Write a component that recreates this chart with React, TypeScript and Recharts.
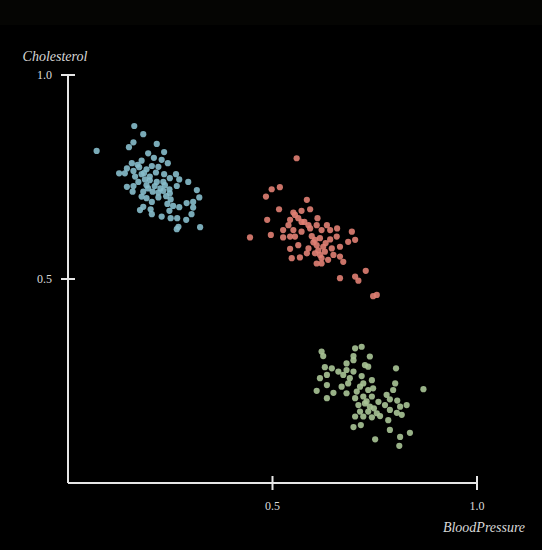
import React from "react";
import { ScatterChart, Scatter, XAxis, YAxis } from "recharts";

// Blood pressure (x) / cholesterol (y) clusters
const blueX = [0.162,0.184,0.160,0.149,0.217,0.070,0.196,0.235,0.210,0.229,0.244,0.180,0.156,0.144,0.125,0.139,0.160,0.174,0.192,0.205,0.221,0.215,0.200,0.188,0.180,0.164,0.235,0.249,0.264,0.272,0.294,0.266,0.248,0.233,0.221,0.207,0.196,0.184,0.144,0.158,0.160,0.192,0.180,0.205,0.221,0.240,0.251,0.243,0.257,0.272,0.290,0.306,0.315,0.321,0.306,0.184,0.202,0.205,0.229,0.248,0.251,0.267,0.289,0.302,0.270,0.266,0.323,0.176,0.233,0.217,0.172,0.192,0.249,0.237,0.200,0.212,0.226,0.170,0.186];
const blueY = [0.875,0.855,0.835,0.823,0.831,0.814,0.808,0.811,0.797,0.792,0.784,0.790,0.784,0.771,0.759,0.759,0.765,0.774,0.769,0.777,0.775,0.761,0.751,0.744,0.757,0.751,0.757,0.747,0.757,0.744,0.738,0.728,0.720,0.716,0.712,0.714,0.722,0.714,0.726,0.714,0.728,0.698,0.702,0.689,0.700,0.703,0.695,0.684,0.679,0.676,0.686,0.675,0.718,0.700,0.689,0.677,0.671,0.659,0.653,0.667,0.649,0.649,0.645,0.659,0.628,0.622,0.627,0.669,0.738,0.738,0.738,0.730,0.710,0.730,0.742,0.728,0.722,0.780,0.760];

const redX = [0.559,0.498,0.518,0.484,0.584,0.516,0.592,0.571,0.551,0.487,0.543,0.563,0.539,0.571,0.588,0.610,0.608,0.633,0.620,0.641,0.658,0.551,0.571,0.592,0.555,0.526,0.543,0.496,0.445,0.596,0.616,0.641,0.694,0.685,0.702,0.563,0.543,0.588,0.608,0.624,0.645,0.665,0.616,0.628,0.604,0.547,0.567,0.620,0.636,0.608,0.665,0.673,0.665,0.702,0.710,0.728,0.746,0.755,0.584,0.649,0.526,0.555,0.620,0.604,0.657,0.612,0.600,0.630,0.578];
const redY = [0.796,0.720,0.725,0.702,0.694,0.671,0.671,0.667,0.663,0.645,0.645,0.649,0.632,0.640,0.632,0.649,0.632,0.632,0.620,0.620,0.624,0.620,0.616,0.624,0.604,0.602,0.604,0.608,0.602,0.605,0.600,0.597,0.616,0.591,0.596,0.583,0.574,0.575,0.583,0.579,0.575,0.579,0.559,0.567,0.563,0.551,0.553,0.551,0.547,0.538,0.555,0.542,0.502,0.506,0.496,0.520,0.458,0.461,0.563,0.559,0.620,0.657,0.538,0.596,0.604,0.570,0.590,0.588,0.640];

const greenX = [0.620,0.624,0.702,0.718,0.698,0.698,0.738,0.726,0.734,0.628,0.645,0.661,0.681,0.698,0.616,0.633,0.673,0.689,0.718,0.743,0.802,0.633,0.669,0.685,0.722,0.734,0.746,0.800,0.795,0.608,0.649,0.681,0.702,0.722,0.743,0.779,0.787,0.805,0.633,0.710,0.726,0.738,0.759,0.775,0.812,0.828,0.714,0.734,0.755,0.787,0.804,0.702,0.743,0.763,0.783,0.816,0.698,0.716,0.787,0.836,0.751,0.812,0.810,0.869,0.681,0.714,0.722,0.730,0.748,0.706];
const greenY = [0.322,0.311,0.330,0.334,0.311,0.301,0.310,0.289,0.285,0.284,0.281,0.273,0.277,0.273,0.257,0.265,0.265,0.257,0.262,0.252,0.281,0.240,0.236,0.244,0.244,0.228,0.232,0.244,0.228,0.226,0.221,0.220,0.208,0.212,0.212,0.216,0.205,0.202,0.208,0.191,0.195,0.187,0.199,0.191,0.187,0.191,0.175,0.175,0.171,0.179,0.172,0.163,0.161,0.164,0.154,0.167,0.137,0.142,0.130,0.123,0.107,0.113,0.091,0.230,0.293,0.236,0.163,0.200,0.183,0.224];

const xTicks = [0.5, 1.0];
const yTicks = [0.5, 1.0];
const xLabel = "BloodPressure";
const yLabel = "Cholesterol";

const zip = (xs: number[], ys: number[]) => xs.map((x, i) => ({ x, y: ys[i] }));
const blueData = zip(blueX, blueY);
const redData = zip(redX, redY);
const greenData = zip(greenX, greenY);

const AXIS = "#e6e6e6";
const FONT = "'Liberation Serif', 'DejaVu Serif', serif";

const dot = (color: string) => (props: any) => (
  <circle cx={props.cx} cy={props.cy} r={3.1} fill={color} fillOpacity={0.9} />
);

const XTick = (props: any) => {
  const { x, y, payload } = props;
  return (
    <g>
      <line x1={x} x2={x} y1={y - 7} y2={y + 7} stroke={AXIS} strokeWidth={2} />
      <text x={x} y={y + 27} textAnchor="middle" fill="#dcdcdc" fontSize={12} fontFamily={FONT}>
        {payload.value.toFixed(1)}
      </text>
    </g>
  );
};

const YTick = (props: any) => {
  const { x, y, payload } = props;
  return (
    <g>
      <line x1={x - 7} x2={x + 7} y1={y} y2={y} stroke={AXIS} strokeWidth={2} />
      <text x={x - 16} y={y + 4} textAnchor="end" fill="#dcdcdc" fontSize={12} fontFamily={FONT}>
        {payload.value.toFixed(1)}
      </text>
    </g>
  );
};

export default function App() {
  return (
    <div style={{ position: "fixed", left: 0, top: 0, width: 542, height: 550, background: "#000" }}>
      <div style={{ position: "absolute", left: 0, top: 0, width: 542, height: 25, background: "#050503" }} />
      <div style={{ position: "absolute", left: 0, top: 0 }}>
        <ScatterChart width={542} height={550} margin={{ top: 75, right: 65, bottom: 27, left: 8 }}>
          <XAxis
            type="number"
            dataKey="x"
            domain={[0, 1]}
            ticks={xTicks}
            height={40}
            tickSize={0}
            tickMargin={0}
            tickLine={false}
            axisLine={{ stroke: AXIS, strokeWidth: 2 }}
            tick={<XTick />}
            interval={0}
            label={{
              content: (p: any) => {
                const vb = p.viewBox;
                return (
                  <text x={vb.x + vb.width + 7} y={vb.y + 49} textAnchor="middle" fill="#d8d8d8" fontSize={14} fontStyle="italic" fontFamily={FONT}>
                    {xLabel}
                  </text>
                );
              },
            }}
          />
          <YAxis
            type="number"
            dataKey="y"
            domain={[0, 1]}
            ticks={yTicks}
            width={60}
            tickSize={0}
            tickMargin={0}
            tickLine={false}
            axisLine={{ stroke: AXIS, strokeWidth: 2 }}
            tick={<YTick />}
            interval={0}
            label={{
              content: (p: any) => {
                const vb = p.viewBox;
                return (
                  <text x={vb.x + vb.width - 13} y={vb.y - 14} textAnchor="middle" fill="#d8d8d8" fontSize={14} fontStyle="italic" fontFamily={FONT}>
                    {yLabel}
                  </text>
                );
              },
            }}
          />
          <Scatter data={blueData} shape={dot("#86bccb")} isAnimationActive={false} />
          <Scatter data={redData} shape={dot("#e07f73")} isAnimationActive={false} />
          <Scatter data={greenData} shape={dot("#a8c496")} isAnimationActive={false} />
        </ScatterChart>
      </div>
    </div>
  );
}
